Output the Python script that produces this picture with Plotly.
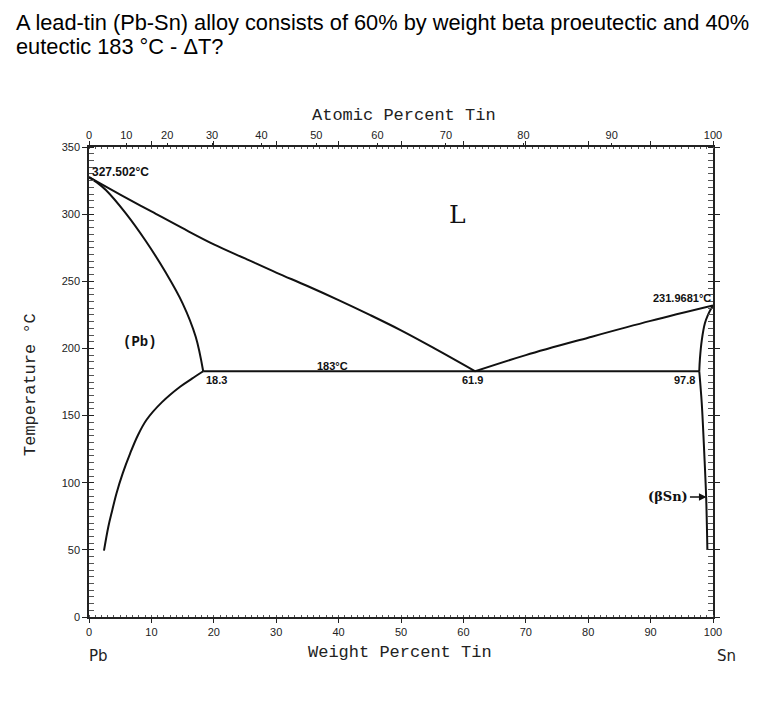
import plotly.graph_objects as go

# ---------------- data ----------------
liq_left_wt = [0, 5, 10, 15, 20, 25, 30, 35, 40, 45, 50, 55, 61.9]
liq_left_T = [327.502, 314.5, 302, 289.5, 277.5, 267, 256.5, 246.5, 236, 225, 213.5, 201, 183]
sol_left_wt = [0, 1.3, 2.7, 5.9, 9.1, 12.3, 15.0, 17.1, 18.3]
sol_left_T = [327.502, 323.5, 318, 300.6, 280, 256.5, 233.6, 208.7, 183]
solv_left_wt = [18.3, 16.5, 14.6, 11.7, 9.2, 7.8, 6.6, 5.4, 4.4, 3.7, 3.1, 2.4]
solv_left_T = [183, 177.5, 171.5, 160, 146.7, 135, 121.9, 107, 92, 79, 67.2, 49.4]
liq_right_wt = [61.9, 70, 80, 90, 100]
liq_right_T = [183, 195, 208, 220.5, 231.9681]
sol_right_wt = [97.8, 97.9, 98.2, 98.7, 99.2, 99.6, 100]
sol_right_T = [183, 192, 206, 218.7, 225, 228.8, 231.9681]
solv_right_wt = [97.8, 98.2, 98.6, 98.9, 99.1]
solv_right_T = [183, 159, 122, 89.6, 50]
eut_wt = [18.3, 97.8]
eut_T = [183, 183]

wt_ticks = [0, 10, 20, 30, 40, 50, 60, 70, 80, 90, 100]
temp_ticks = [0, 50, 100, 150, 200, 250, 300, 350]
atomic_labels = [0, 10, 20, 30, 40, 50, 60, 70, 80, 90, 100]
M_SN, M_PB = 118.71, 207.2

title_lines = ["A lead-tin (Pb-Sn) alloy consists of 60% by weight beta proeutectic and 40%",
               "eutectic 183 °C - ΔT?"]


def at_to_wt(a):
    return 100.0 * a * M_SN / (a * M_SN + (100 - a) * M_PB)


atomic_pos = [at_to_wt(a) for a in atomic_labels]

fig = go.Figure()
for xs, ys, shape in [(liq_left_wt, liq_left_T, "spline"), (sol_left_wt, sol_left_T, "spline"),
                      (solv_left_wt, solv_left_T, "spline"), (liq_right_wt, liq_right_T, "spline"),
                      (sol_right_wt, sol_right_T, "spline"), (solv_right_wt, solv_right_T, "spline"),
                      (eut_wt, eut_T, "linear")]:
    fig.add_trace(go.Scatter(x=xs, y=ys, mode="lines",
                             line=dict(color="#111", width=2, shape=shape, smoothing=1.0),
                             hoverinfo="skip", showlegend=False))
# dummy trace for the top axis
fig.add_trace(go.Scatter(x=[0, 100], y=[0, 0], xaxis="x2", mode="lines",
                         line=dict(width=0), opacity=0, hoverinfo="skip", showlegend=False))

tickfont = dict(family="Liberation Sans, Arial", size=11, color="#222")
fig.update_layout(
    width=772, height=709,
    margin=dict(l=89, r=59, t=147, b=92),
    paper_bgcolor="white", plot_bgcolor="white",
    showlegend=False,
    xaxis=dict(range=[0, 100], tickvals=wt_ticks, ticks="outside", ticklen=4, tickwidth=1.2,
               tickcolor="#222", showline=True, linecolor="#222", linewidth=1.5, mirror="allticks",
               showgrid=False, zeroline=False, tickfont=tickfont,
               minor=dict(dtick=1, ticks="inside", ticklen=2, tickcolor="#555", tickwidth=1)),
    xaxis2=dict(range=[0, 100], overlaying="x", side="top", tickvals=atomic_pos,
                ticktext=[str(a) for a in atomic_labels], ticks="outside", ticklen=3, tickwidth=1.2,
                tickcolor="#222", showgrid=False, zeroline=False, showline=False, tickfont=tickfont),
    yaxis=dict(range=[0, 350], tickvals=temp_ticks, ticks="outside", ticklen=5, tickwidth=1.2,
               tickcolor="#222", showline=True, linecolor="#222", linewidth=1.5, mirror="allticks",
               showgrid=False, zeroline=False, tickfont=tickfont,
               minor=dict(dtick=5, ticks="inside", ticklen=2, tickcolor="#555", tickwidth=1)),
)

small = dict(family="Liberation Sans, Arial", size=11, color="#111")
ann = []
ann.append(dict(x=0.15, y=331.4, text="<b>327.502°C</b>", xanchor="left",
                font=dict(family="Liberation Sans, Arial", size=12, color="#111")))
ann.append(dict(x=100, y=237.5, text="<b>231.9681°C</b>", xanchor="right", font=small))
ann.append(dict(x=39.1, y=186.9, text="<b>183°C</b>", font=small))
ann.append(dict(x=20.4, y=176.5, text="<b>18.3</b>", font=small))
ann.append(dict(x=61.5, y=176.5, text="<b>61.9</b>", font=small))
ann.append(dict(x=95.5, y=176.5, text="<b>97.8</b>", font=small))
ann.append(dict(x=59.1, y=299.4, text="L", font=dict(family="DejaVu Serif", size=25, color="#111")))
ann.append(dict(x=8.2, y=204.8, text="<b>(Pb)</b>",
                font=dict(family="Liberation Mono", size=14, color="#111")))
ann.append(dict(x=98.95, y=89.4, text="<b>(βSn)</b>", showarrow=True, ax=-38, ay=0,
                arrowhead=2, arrowsize=1, arrowwidth=1.5, arrowcolor="#111",
                font=dict(family="DejaVu Serif", size=13, color="#111")))
for a in ann:
    a.setdefault("xref", "x")
    a.setdefault("yref", "y")
    a.setdefault("showarrow", False)
    a.setdefault("xanchor", "center")
    a.setdefault("yanchor", "middle")

mono = dict(family="Liberation Mono", size=17, color="#222")
title_font = dict(family="Liberation Sans, Arial", size=21.8, color="#000")
ann += [
    dict(x=(14 - 89) / 624, y=(617 - 22) / 470, text=title_lines[0],
         xanchor="left", font=title_font),
    dict(x=(14 - 89) / 624, y=(617 - 47) / 470, text=title_lines[1],
         xanchor="left", font=title_font),
    dict(x=(404 - 89) / 624, y=(617 - 116) / 470, text="Atomic Percent Tin", font=mono),
    dict(x=(400 - 89) / 624, y=(617 - 652) / 470, text="Weight Percent Tin", font=mono),
    dict(x=(30 - 89) / 624, y=(617 - 385) / 470, text="Temperature °C", textangle=-90, font=mono),
    dict(x=(98 - 89) / 624, y=(617 - 656) / 470, text="Pb",
         font=dict(family="DejaVu Sans", size=15, color="#222")),
    dict(x=(726 - 89) / 624, y=(617 - 656) / 470, text="Sn",
         font=dict(family="DejaVu Sans", size=15, color="#222")),
]
for a in ann[-7:]:
    a.update(xref="paper", yref="paper", showarrow=False, yanchor="middle")
    a.setdefault("xanchor", "center")
fig.update_layout(annotations=ann)

fig.write_html("out.html", config={"displayModeBar": False},
               post_script="document.body.style.margin='0';")
